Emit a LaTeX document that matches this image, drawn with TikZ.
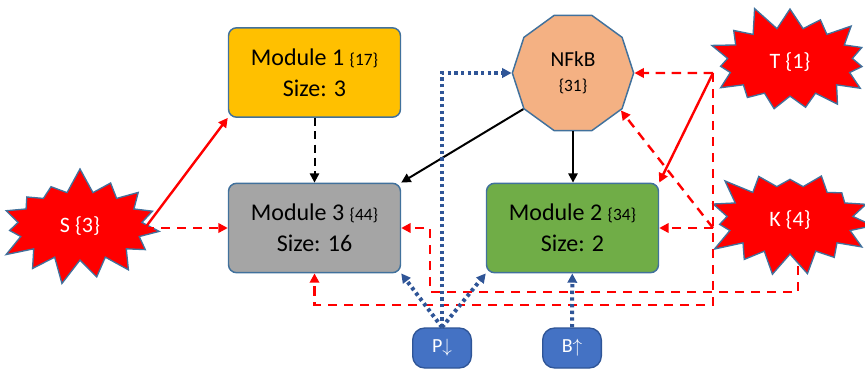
\documentclass[tikz,border=0pt]{standalone}
\usepackage{fontspec}
\setmainfont{Carlito}
\usetikzlibrary{arrows.meta,shapes.geometric,shapes.symbols}

\definecolor{edgeblue}{HTML}{41719C}
\definecolor{modyellow}{HTML}{FFC000}
\definecolor{modgrey}{HTML}{A5A5A5}
\definecolor{modgreen}{HTML}{70AD47}
\definecolor{nfpeach}{HTML}{F4B183}
\definecolor{dotblue}{HTML}{2F5597}
\definecolor{pillblue}{HTML}{4472C4}
\newcommand{\smallnum}[1]{{\fontsize{13}{15}\selectfont\{#1\}}}

\begin{document}
\begin{tikzpicture}[x=0.75pt, y=-0.75pt, >={Triangle[length=7pt,width=7pt]},
  module/.style={draw=edgeblue, line width=1.1pt, rounded corners=6pt, minimum width=129pt, minimum height=67pt, align=center, font=\fontsize{18}{23}\selectfont},
  burst/.style={starburst, starburst points=15, starburst point height=19pt, fill=red, draw=edgeblue, line width=1pt, text=white, inner xsep=18pt, inner ysep=11pt, font=\fontsize{16.5}{19}\selectfont},
  pill/.style={draw=dotblue, fill=pillblue, line width=1pt, rounded corners=9pt, minimum width=44pt, minimum height=30pt, text=white, font=\fontsize{15}{17}\selectfont},
  solidred/.style={->, red, line width=1.8pt},
  dashred/.style={->, red, line width=1.8pt, dash pattern=on 7pt off 5pt},
  dotline/.style={->, dotblue, line width=3pt, dash pattern=on 2.5pt off 2.5pt},
  blackline/.style={->, line width=1.5pt}]
  \useasboundingbox (0,0) rectangle (865,375);

  % modules and the hub
  \node[module, fill=modyellow] (m1) at (314.5,72.5) {Module 1 \smallnum{17}\\Size: 3};
  \node[module, fill=modgrey] (m3) at (314.5,228) {Module 3 \smallnum{44}\\Size: 16};
  \node[module, fill=modgreen] (m2) at (572.5,228) {Module 2 \smallnum{34}\\Size: 2};
  \node[regular polygon, regular polygon sides=10, draw=edgeblue, fill=nfpeach, line width=1.1pt, minimum size=91pt, inner sep=0pt, align=center, font=\fontsize{16}{19}\selectfont] (nf) at (573,73) {NFkB\\\smallnum{31}};

  % perturbations
  \node[burst, random starburst=7] (S) at (80,226) {S \{3\}};
  \node[burst, random starburst=11] (T) at (790,62) {T \{1\}};
  \node[burst, random starburst=23] (K) at (790,220) {K \{4\}};
  \node[pill] (P) at (442,348) {P$\downarrow$};
  \node[pill] (B) at (572,348) {B$\uparrow$};

  \coordinate (sj) at (145,228);
  \coordinate (tj) at (713,73);
  \coordinate (kj) at (713,228);
  \coordinate (kb) at (798,266);

  \draw[blackline, dash pattern=on 6pt off 4pt] (m1) -- (m3);
  \draw[blackline] (nf.216) -- (m3.north east);
  \draw[blackline] (nf.south) -- (nf.south |- m2.north);

  \draw[solidred] (sj) -- (m1.south west);
  \draw[dashred] (sj) -- (m3.west);
  \draw[dashred] (tj) -- (nf.east);
  \draw[solidred] (tj) -- (m2.north east);
  \draw[dashred] (tj) -- ++(0,232) -| (m3.south);
  \draw[dashred] (kj) -- (m2.east);
  \draw[dashred] (kj) -- (nf.-38);
  \draw[dashred] (kb) |- (430,292) |- (m3.east);

  \draw[dotline] (P.north) |- (nf.west);
  \draw[dotline] (P.north) -- (m3.south east);
  \draw[dotline] (P.north) -- (m2.south west);
  \draw[dotline] (B) -- (m2);
\end{tikzpicture}
\end{document}
